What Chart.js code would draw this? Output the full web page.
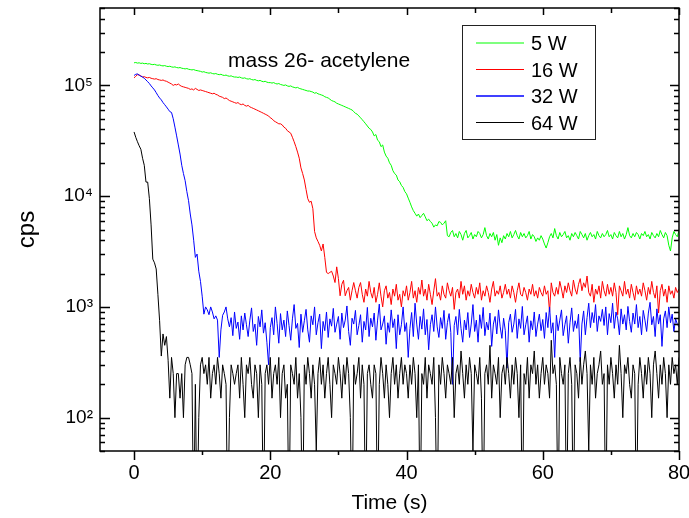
<!DOCTYPE html>
<html>
<head>
<meta charset="utf-8">
<script src="https://cdn.jsdelivr.net/npm/chart.js@4.4.0/dist/chart.umd.min.js"></script>
<style>
  html, body { margin: 0; padding: 0; background: #fff; }
</style>
</head>
<body>
<canvas id="plot" width="689" height="518"></canvas>
<script>
// sampling interval of the mass spec trace (s)
const timeStep = 0.25;

const seriesLabels = ['5 W', '16 W', '32 W', '64 W'];
const seriesColors = ['#00ff00', '#ff0000', '#0000ff', '#000000'];

// cps, mass 26, one value every 0.25 s from t = 0 to 80 s
const cps5W = [
  160000,161000,159000,160000,158000,159000,157000,158000,156000,157000,155000,154000,155000,153000,152000,153000,151000,150000,151000,149000,
  148000,149000,147000,146000,147000,145000,144000,145000,143000,142000,141000,142000,140000,139000,138000,139000,137000,136000,135000,134000,
  132000,133000,131000,130000,129000,130000,128000,127000,128000,126000,125000,126000,124000,123000,124000,122000,121000,122000,120000,119000,
  119000,118000,119000,117000,116000,117000,115000,114000,115000,113000,112000,113000,111000,110000,111000,109000,108000,109000,107000,106000,
  106000,105000,106000,104000,103000,104000,102000,101000,100000,101000,99000,98000,99000,97000,96000,95000,96000,94000,93000,92000,
  91000,90000,89000,89000,88000,87000,85000,86000,84000,83000,82000,81000,79000,78000,77000,75000,73000,72000,71000,69000,
  68000,67000,66000,65000,64000,63000,62000,61000,60000,58000,56000,55000,53000,51000,49000,47000,45000,43000,41000,40000,
  38000,35000,36000,32000,31000,28000,29000,25000,23000,22000,20000,19000,17000,16000,15500,14000,13500,12500,12000,11000,
  10500,9600,8800,8000,7400,7000,6600,6900,6400,6700,7000,6500,6000,6200,5900,5700,5250,5500,5400,5900,
  5800,5500,5700,6000,4400,4300,4700,4900,4300,4600,4200,4800,4500,4000,4600,4900,4200,4400,4700,4100,
  4500,4300,4800,4600,4200,4500,5200,4400,4100,4600,4300,4700,4000,4500,3600,4200,3800,4400,4100,4600,
  4300,4800,4200,4500,4900,4400,4100,4700,4300,4600,4200,4400,4800,4100,4500,4300,3900,4200,4000,4400,
  4100,3700,3400,3800,4300,4600,4200,5100,4400,4100,4700,4300,4500,4800,4200,4400,4000,4600,4300,4700,
  4400,4100,4800,4500,4200,4600,4000,4400,4700,4300,4500,4100,4800,4400,4200,4600,4300,4500,4900,4300,
  4500,4100,4700,4400,4200,4800,4300,4600,4100,4500,5200,4400,4200,4600,4300,4700,4500,4100,4600,4400,
  4800,4300,4500,4100,4700,4400,4200,4600,4300,4900,4500,4200,4700,4400,3600,3200,4200,4800,4500,4300,
  4900
];

const cps16W = [
  117000,121000,125000,124000,122000,119000,120000,118000,117000,118000,116000,115000,114000,115000,113000,112000,111000,112000,110000,109000,
  107000,105000,103000,100000,102000,101000,103000,100000,98000,97000,96000,95000,94000,92000,93000,91000,94000,92000,90000,91000,
  90000,89000,88000,87000,86000,85000,84000,85000,83000,82000,80000,79000,78000,76000,77000,75000,73000,72000,71000,70000,
  69000,70000,68000,67000,68000,66000,65000,66000,64000,63000,62000,61000,60000,59000,58000,57000,56000,55000,54000,53000,
  51000,50000,48000,47000,46000,45000,45000,44000,42000,41000,39000,38000,37000,34000,31000,28000,25000,22000,18000,16000,
  14000,11500,9500,8800,9000,7700,4800,4200,3900,3600,3200,3700,2800,2050,2000,2050,2100,1900,1660,2300,
  1800,1260,1600,1740,1260,1400,1500,1150,1400,1660,1400,1200,1500,1660,1300,1100,1450,1250,1700,1350,
  1200,1500,1100,1300,1650,1250,1000,1400,1550,1200,1350,1050,1450,1250,1600,1150,1300,1000,1400,1250,
  1550,1150,1350,1700,1200,1400,1100,1500,1300,1750,1250,1450,1150,1600,1300,1050,1400,1800,1250,1350,
  1150,1550,1300,1200,1650,1400,1250,1500,950,1350,1450,1200,1700,1300,1550,1150,1400,1250,1600,1350,
  1200,1500,1300,1650,1150,1400,1250,1550,1350,1100,1450,1700,1250,1400,1300,1550,1200,1350,1600,1300,
  1450,1200,1550,1350,1100,1400,1650,1300,1250,1500,1350,1150,1450,1300,1600,1250,1400,1200,1500,1350,
  1250,1550,1300,1400,900,1650,1350,1250,1500,1300,1700,1450,1200,1550,1350,1650,1400,1250,1750,1450,
  1300,1600,1800,1400,1650,1500,1900,1350,1250,1600,1100,1450,1300,1550,1200,1700,1400,1250,1600,1300,
  1500,1250,1650,1350,850,1550,1400,1250,1700,1300,1450,1200,1600,1350,1150,1550,1300,1450,1250,1650,
  1400,1150,1500,1300,1700,1350,1200,1550,880,1400,1600,1250,1450,1100,1550,1300,1400,1200,1500,1350,
  1450
];

const cps32W = [
  123000,126000,127000,124000,121000,119000,116000,112000,108000,104000,99000,95000,91000,86000,81000,77000,74000,70000,67000,64000,
  61000,58000,57000,50000,42000,35000,29000,24000,19000,16000,13800,11000,9100,6900,5500,4000,2800,3000,2100,1700,
  1250,860,1000,940,850,1000,900,780,830,760,350,620,840,900,1000,780,660,800,550,900,
  640,730,510,830,620,880,690,540,760,980,600,700,450,820,660,940,580,720,480,300,
  650,800,560,1000,710,470,870,620,760,540,920,680,500,780,1050,640,710,430,860,590,
  750,950,620,480,830,690,1000,560,720,860,420,740,610,900,530,780,670,970,590,700,
  820,510,880,650,760,1020,600,450,790,700,930,560,680,850,480,740,620,990,540,790,
  660,880,500,760,1060,620,700,830,460,720,590,940,650,780,420,850,560,690,1000,600,
  720,350,640,890,540,1080,700,510,820,630,960,560,770,410,690,850,600,1000,660,530,
  800,640,930,510,720,870,590,200,680,820,560,950,640,480,760,620,890,530,700,1050,
  600,760,480,850,640,990,550,730,620,880,440,700,820,570,940,660,520,790,610,280,
  720,860,590,700,950,520,780,640,1010,560,690,830,480,750,620,900,540,700,860,610,
  770,520,890,650,1000,580,720,350,840,610,760,940,550,690,830,470,720,980,600,750,
  640,860,320,700,920,560,800,1080,650,890,720,1050,600,830,740,950,680,1000,560,870,
  720,1080,640,900,780,560,960,700,850,620,1010,740,590,880,700,1050,650,820,560,930,
  760,600,880,1100,690,820,540,960,700,850,440,780,920,650,1000,720,860,600,780,700,
  660
];

// 10 = no counts in that interval (falls below the axis)
const cps64W = [
  38000,34000,31000,28500,26500,22000,19000,13400,13400,9500,5500,2700,2500,2200,1300,750,360,570,450,540,
  330,150,350,250,100,250,250,150,250,100,300,350,350,300,250,10,200,10,100,300,
  350,250,300,200,350,150,250,300,200,350,250,150,300,250,200,10,100,300,250,200,
  250,300,150,350,200,100,300,250,350,200,150,300,250,100,300,200,10,250,300,200,
  350,150,250,300,200,350,100,250,300,150,200,10,300,250,200,350,150,250,100,10,
  300,200,350,250,150,300,200,50,250,350,200,300,150,250,350,200,100,300,250,200,
  350,250,150,300,200,350,250,100,10,300,200,250,350,150,300,200,10,250,300,200,
  150,300,250,10,200,350,250,150,300,200,100,250,350,200,300,150,250,350,200,300,
  250,150,300,200,350,250,100,300,10,250,200,350,150,300,250,200,350,100,10,300,
  200,350,250,150,300,250,200,350,100,250,300,200,400,250,150,300,200,350,250,50,
  300,250,200,350,150,10,250,300,200,450,150,300,250,200,350,100,250,300,200,350,
  250,150,300,200,350,250,100,300,10,250,200,350,150,300,250,400,200,300,150,250,
  350,200,300,250,150,500,250,300,200,10,350,250,200,300,10,250,350,200,10,300,
  250,150,350,200,300,400,250,50,300,200,350,150,250,300,400,200,250,10,300,200,
  350,250,150,300,200,450,250,100,300,250,350,200,150,300,250,10,200,350,250,150,
  300,200,350,250,100,300,400,250,150,300,200,350,250,100,300,200,350,250,300,200,
  350
];

const xTickValues = [0, 10, 20, 30, 40, 50, 60, 70, 80];
const xLabelStep = 20;
const yDecades = [10, 100, 1000, 10000, 100000];
const yMantissas = [1, 2, 3, 4, 5, 6, 7, 8, 9];
const superscripts = { 2: '\u00b2', 3: '\u00b3', 4: '\u2074', 5: '\u2075' };
const noteText = 'mass 26- acetylene';

const allSeries = [cps5W, cps16W, cps32W, cps64W];

Chart.defaults.font.family = '"Liberation Sans", Arial, Helvetica, sans-serif';
Chart.defaults.color = '#000';

function isDecade(v) {
  const e = Math.log10(v);
  return Math.abs(e - Math.round(e)) < 1e-9;
}

// box, tick marks, legend and note drawn like the Origin plot
const framePlugin = {
  id: 'frame',
  afterDraw(chart) {
    const { ctx, chartArea: a, scales: { x, y } } = chart;
    ctx.save();
    ctx.strokeStyle = '#000';
    ctx.lineWidth = 1.5;
    ctx.strokeRect(a.left, a.top, a.right - a.left, a.bottom - a.top);

    ctx.beginPath();
    y.ticks.forEach(t => {
      const py = Math.round(y.getPixelForValue(t.value)) + 0.5;
      const big = isDecade(t.value);
      ctx.moveTo(a.left, py);
      ctx.lineTo(a.left + (big ? 10 : 5), py);
      ctx.moveTo(a.right, py);
      ctx.lineTo(a.right - (big ? 9 : 5), py);
    });
    x.ticks.forEach(t => {
      const px = Math.round(x.getPixelForValue(t.value)) + 0.5;
      const big = t.value % xLabelStep === 0;
      ctx.moveTo(px, a.bottom);
      ctx.lineTo(px, a.bottom + (big ? 9 : 4));
      ctx.moveTo(px, a.top);
      ctx.lineTo(px, a.top + (big ? 7 : 5));
    });
    ctx.stroke();

    // legend box
    ctx.lineWidth = 1;
    ctx.strokeStyle = '#222';
    ctx.strokeRect(462.5, 25.5, 133, 114);
    ctx.font = '20px "Liberation Sans", Arial, sans-serif';
    ctx.fillStyle = '#000';
    ctx.textBaseline = 'alphabetic';
    chart.data.datasets.forEach((ds, i) => {
      const ly = 43 + i * 26.5;
      ctx.strokeStyle = ds.borderColor;
      ctx.lineWidth = i === 2 ? 1.6 : 1.2;
      ctx.beginPath();
      ctx.moveTo(476, ly);
      ctx.lineTo(524, ly);
      ctx.stroke();
      ctx.fillText(ds.label, 531, ly + 7);
    });

    ctx.font = '21px "Liberation Sans", Arial, sans-serif';
    ctx.fillText(noteText, 228, 67);
    ctx.restore();
  }
};

const datasets = allSeries.map((vals, i) => ({
  label: seriesLabels[i],
  data: vals.map((v, k) => ({ x: k * timeStep, y: v })),
  borderColor: seriesColors[i],
  borderWidth: 1,
  pointRadius: 0,
  tension: 0,
  order: allSeries.length - i
}));

new Chart(document.getElementById('plot'), {
  type: 'line',
  data: { datasets },
  options: {
    responsive: false,
    animation: false,
    devicePixelRatio: 1,
    layout: { padding: { left: 0, right: 10, top: 8, bottom: 0 } },
    plugins: { legend: { display: false }, tooltip: { enabled: false } },
    scales: {
      x: {
        type: 'linear',
        min: -5,
        max: 80,
        grid: { display: false, drawTicks: false, tickLength: 0 },
        border: { display: false },
        afterBuildTicks: s => { s.ticks = xTickValues.map(v => ({ value: v })); },
        afterFit: s => { s.height = 67; s.paddingLeft = 0; s.paddingRight = 0; },
        ticks: {
          autoSkip: false,
          maxRotation: 0,
          padding: 10,
          font: { size: 20 },
          callback: v => (v % xLabelStep === 0 ? String(v) : '')
        },
        title: { display: true, text: 'Time (s)', font: { size: 21 }, padding: { bottom: 2 } }
      },
      y: {
        type: 'logarithmic',
        min: 50,
        max: 500000,
        grid: { display: false, drawTicks: false, tickLength: 0 },
        border: { display: false },
        afterBuildTicks: s => {
          const t = [];
          yDecades.forEach(d => yMantissas.forEach(m => {
            const v = d * m;
            if (v >= 50 && v <= 500000) t.push({ value: v });
          }));
          s.ticks = t;
        },
        afterFit: s => { s.width = 100; s.paddingTop = 0; s.paddingBottom = 0; },
        ticks: {
          autoSkip: false,
          padding: 7,
          font: { size: 19 },
          callback: v => {
            if (!isDecade(v)) return '';
            return '10' + superscripts[Math.round(Math.log10(v))];
          }
        },
        title: { display: true, text: 'cps', font: { size: 24 }, padding: { top: 13 } }
      }
    }
  },
  plugins: [framePlugin]
});
</script>
</body>
</html>
